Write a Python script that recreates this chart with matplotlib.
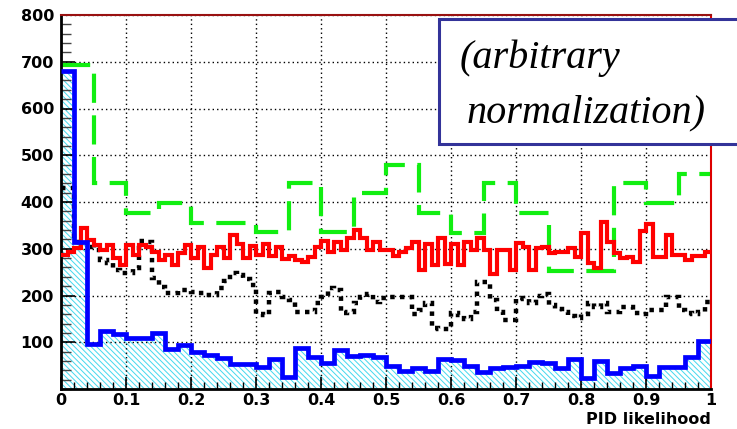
import numpy as np
import matplotlib
matplotlib.use("Agg")
import matplotlib.pyplot as plt
from matplotlib.patches import Rectangle
from matplotlib.ticker import MultipleLocator

# bin contents
blue_counts = [680, 315, 96, 123, 118, 110, 110, 119, 85, 95,
               79, 73, 66, 53, 53, 47, 65, 25, 88, 69,
               55, 84, 71, 72, 69, 50, 39, 44, 39, 65,
               61, 49, 36, 44, 48, 49, 58, 55, 45, 65,
               24, 60, 35, 44, 49, 27, 46, 48, 69, 102]

green_counts = [693, 440, 377, 398, 356, 356, 336, 440, 336, 419,
                479, 377, 334, 440, 377, 253, 253, 440, 398, 460]

red_counts = [287, 294, 301, 344, 319, 307, 297, 308, 280, 265,
              308, 287, 308, 303, 294, 276, 287, 265, 290, 308,
              280, 303, 258, 287, 303, 280, 329, 311, 280, 305,
              287, 310, 284, 304, 279, 284, 276, 272, 283, 304,
              317, 294, 315, 297, 324, 340, 324, 297, 315, 297,
              298, 284, 293, 302, 314, 255, 311, 265, 322, 268,
              311, 265, 314, 297, 323, 297, 247, 297, 297, 255,
              313, 304, 255, 301, 304, 290, 293, 293, 301, 283,
              333, 270, 258, 358, 315, 290, 280, 282, 272, 337,
              353, 282, 282, 329, 287, 287, 277, 284, 284, 293]

black_counts = [431, 431, 315, 315, 304, 297, 276, 270, 255, 248,
                248, 258, 317, 315, 237, 219, 205, 205, 212, 212,
                208, 205, 201, 201, 216, 230, 248, 243, 235, 222,
                160, 158, 205, 208, 197, 190, 165, 165, 165, 183,
                197, 215, 212, 162, 165, 183, 197, 203, 186, 195,
                197, 197, 197, 197, 161, 170, 183, 130, 128, 129,
                163, 159, 150, 165, 229, 229, 190, 165, 148, 148,
                194, 192, 183, 200, 203, 180, 172, 164, 156, 152,
                160, 185, 175, 185, 165, 165, 176, 176, 162, 160,
                170, 168, 168, 197, 197, 168, 162, 160, 165, 187]

x_ticks = [0, 0.1, 0.2, 0.3, 0.4, 0.5, 0.6, 0.7, 0.8, 0.9, 1]
x_labels = ["0", "0.1", "0.2", "0.3", "0.4", "0.5", "0.6", "0.7", "0.8", "0.9", "1"]
y_ticks = [100, 200, 300, 400, 500, 600, 700, 800]

fig = plt.figure(figsize=(7.37, 4.29), dpi=100)
ax = fig.add_axes([61 / 737, 40 / 429, 650 / 737, 374 / 429])

plt.rcParams["hatch.linewidth"] = 0.7


def edges(n):
    return np.linspace(0, 1, n + 1)


# hatched area under the blue histogram
ax.stairs(blue_counts, edges(len(blue_counts)), fill=True, hatch="\\" * 6,
          facecolor="none", edgecolor="#44d8ee", linewidth=0, zorder=1)

ax.stairs(green_counts, edges(len(green_counts)), baseline=None,
          color="#11ee11", lw=3.0, linestyle=(0, (7, 3)), zorder=2)
ax.stairs(black_counts, edges(len(black_counts)), baseline=None,
          color="black", lw=3.2, linestyle=(0, (1, 1.2)), zorder=3)
ax.stairs(red_counts, edges(len(red_counts)), baseline=None,
          color="#ff0000", lw=3.0, zorder=4)
ax.stairs(blue_counts, edges(len(blue_counts)), baseline=None,
          color="#0000ff", lw=3.4, zorder=5)

ax.set_xlim(0, 1)
ax.set_ylim(0, 800)

ax.set_xticks(x_ticks)
ax.set_xticklabels(x_labels)
ax.set_yticks(y_ticks)
ax.xaxis.set_minor_locator(MultipleLocator(0.02))
ax.yaxis.set_minor_locator(MultipleLocator(20))

tick_font = dict(family="DejaVu Sans", weight="bold", size=11.5)
for lab in ax.get_xticklabels() + ax.get_yticklabels():
    lab.set_fontproperties(matplotlib.font_manager.FontProperties(**tick_font))

ax.tick_params(axis="x", which="major", direction="in", length=9, width=1.2, pad=3)
ax.tick_params(axis="x", which="minor", direction="in", length=5, width=1.0)
ax.tick_params(axis="y", which="major", direction="in", length=10, width=1.2, pad=5)
ax.tick_params(axis="y", which="minor", direction="in", length=7, width=1.0, color="#444444")

ax.grid(True, which="major", color="black", linestyle=(0, (1, 2.2)), linewidth=1.0)

ax.spines["left"].set_linewidth(2)
ax.spines["bottom"].set_linewidth(2)
ax.spines["top"].set_color("#991111")
ax.spines["right"].set_color("#dd0000")
ax.spines["top"].set_linewidth(1.5)
ax.spines["right"].set_linewidth(1.5)

fig.text(711 / 737, 5 / 429, "PID likelihood", ha="right", va="baseline",
         family="DejaVu Sans", weight="bold", size=11.5)

# note box, running off the right edge
box = Rectangle((439 / 737, (429 - 144) / 429), 0.5, 125 / 429,
                transform=fig.transFigure, facecolor="white",
                edgecolor="#333399", linewidth=2.2, zorder=10, clip_on=False)
fig.add_artist(box)
fig.text(460 / 737, (429 - 68) / 429, "(arbitrary", ha="left", va="baseline",
         family="Liberation Serif", style="italic", size=29, zorder=11)
fig.text(467 / 737, (429 - 122) / 429, "normalization)", ha="left", va="baseline",
         family="Liberation Serif", style="italic", size=29, zorder=11)

fig.savefig("out.png", dpi=100)
